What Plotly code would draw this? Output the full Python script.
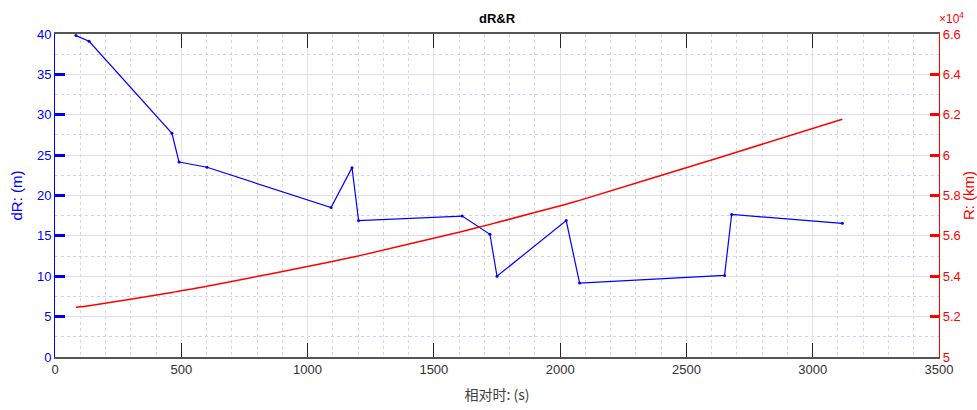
import plotly.graph_objects as go

# Data
t_s = [83, 135, 463, 491, 602, 1093, 1176, 1202, 1612, 1722, 1750, 2024, 2077, 2651, 2679, 3117]
dR_m = [39.8, 39.1, 27.7, 24.15, 23.5, 18.5, 23.45, 16.9, 17.45, 15.2, 10.0, 16.9, 9.16, 10.1, 17.65, 16.55]
R_km = [52460, 52540, 53200, 53260, 53500, 54720, 54940, 55010, 56220, 56570, 56660, 57570, 57760, 59960, 60070, 61780]

x_ticks = [0, 500, 1000, 1500, 2000, 2500, 3000, 3500]
left_ticks = [0, 5, 10, 15, 20, 25, 30, 35, 40]
right_tickvals = [50000, 52000, 54000, 56000, 58000, 60000, 62000, 64000, 66000]
right_ticktext = ["5", "5.2", "5.4", "5.6", "5.8", "6", "6.2", "6.4", "6.6"]

FONT = "Liberation Sans, Arial, sans-serif"

fig = go.Figure()
fig.add_trace(go.Scatter(
    x=t_s, y=dR_m, mode="lines+markers",
    line=dict(color="#0000ff", width=1.2),
    marker=dict(color="#0000ff", size=3),
    yaxis="y", showlegend=False, hoverinfo="skip"))
fig.add_trace(go.Scatter(
    x=t_s, y=R_km, mode="lines",
    line=dict(color="#ff0000", width=1.5, shape="spline", smoothing=0.6),
    yaxis="y2", showlegend=False, hoverinfo="skip"))

fig.update_layout(
    width=977, height=410,
    margin=dict(l=55, r=38, t=34, b=53),
    paper_bgcolor="white", plot_bgcolor="white",
    font=dict(family=FONT, size=13, color="#262626"),
    title=dict(text="<b>dR&R</b>", x=(55 + 884 / 2) / 977, xanchor="center",
               y=1 - 18 / 410, yanchor="middle",
               font=dict(family=FONT, size=13, color="#000000")),
    xaxis=dict(
        range=[0, 3500], tickvals=x_ticks, ticks="inside", ticklen=14, tickwidth=1,
        tickcolor="#262626", showline=True, linecolor="#555555", linewidth=1.5,
        mirror="ticks", showgrid=True, gridcolor="#e3e3e3", gridwidth=1,
        zeroline=False, automargin=False,
        minor=dict(dtick=100, showgrid=True, gridcolor="#d8d8d8", griddash="dot", gridwidth=1, ticks=""),
        title=dict(text="相对时: (s)", font=dict(family="Noto Sans CJK SC, Liberation Sans", size=14, color="#404040"), standoff=14),
        tickfont=dict(size=13, color="#303030"),
    ),
    yaxis=dict(
        range=[0, 40], tickvals=left_ticks, ticks="inside", ticklen=10, tickwidth=2.5,
        tickcolor="#0000ff", showline=True, linecolor="#0000ff", linewidth=1,
        showgrid=True, gridcolor="#dcdcfa", gridwidth=1.3, zeroline=False, automargin=False,
        minor=dict(dtick=2.5, showgrid=True, gridcolor="#d0d0f4", griddash="dot", gridwidth=1, ticks=""),
        title=dict(text="dR: (m)", font=dict(color="#0000ff", size=15), standoff=10),
        tickfont=dict(color="#0000ff", size=13),
    ),
    yaxis2=dict(
        range=[50000, 66000], tickvals=right_tickvals, ticktext=right_ticktext,
        overlaying="y", side="right", ticks="inside", ticklen=9, tickwidth=2.5,
        tickcolor="#ff0000", showline=True, linecolor="#ff0000", linewidth=1.2,
        showgrid=False, zeroline=False, automargin=False,
        title=dict(text="R: (km)", font=dict(color="#ff0000", size=15), standoff=8),
        tickfont=dict(color="#ff0000", size=13),
    ),
    annotations=[dict(
        text="×10<sup>4</sup>", xref="paper", yref="paper", x=1.0, y=1.0,
        xanchor="left", yanchor="bottom", showarrow=False, xshift=-2, yshift=6,
        font=dict(color="#ff0000", size=12, family=FONT))],
)

fig.write_html("out.html")
